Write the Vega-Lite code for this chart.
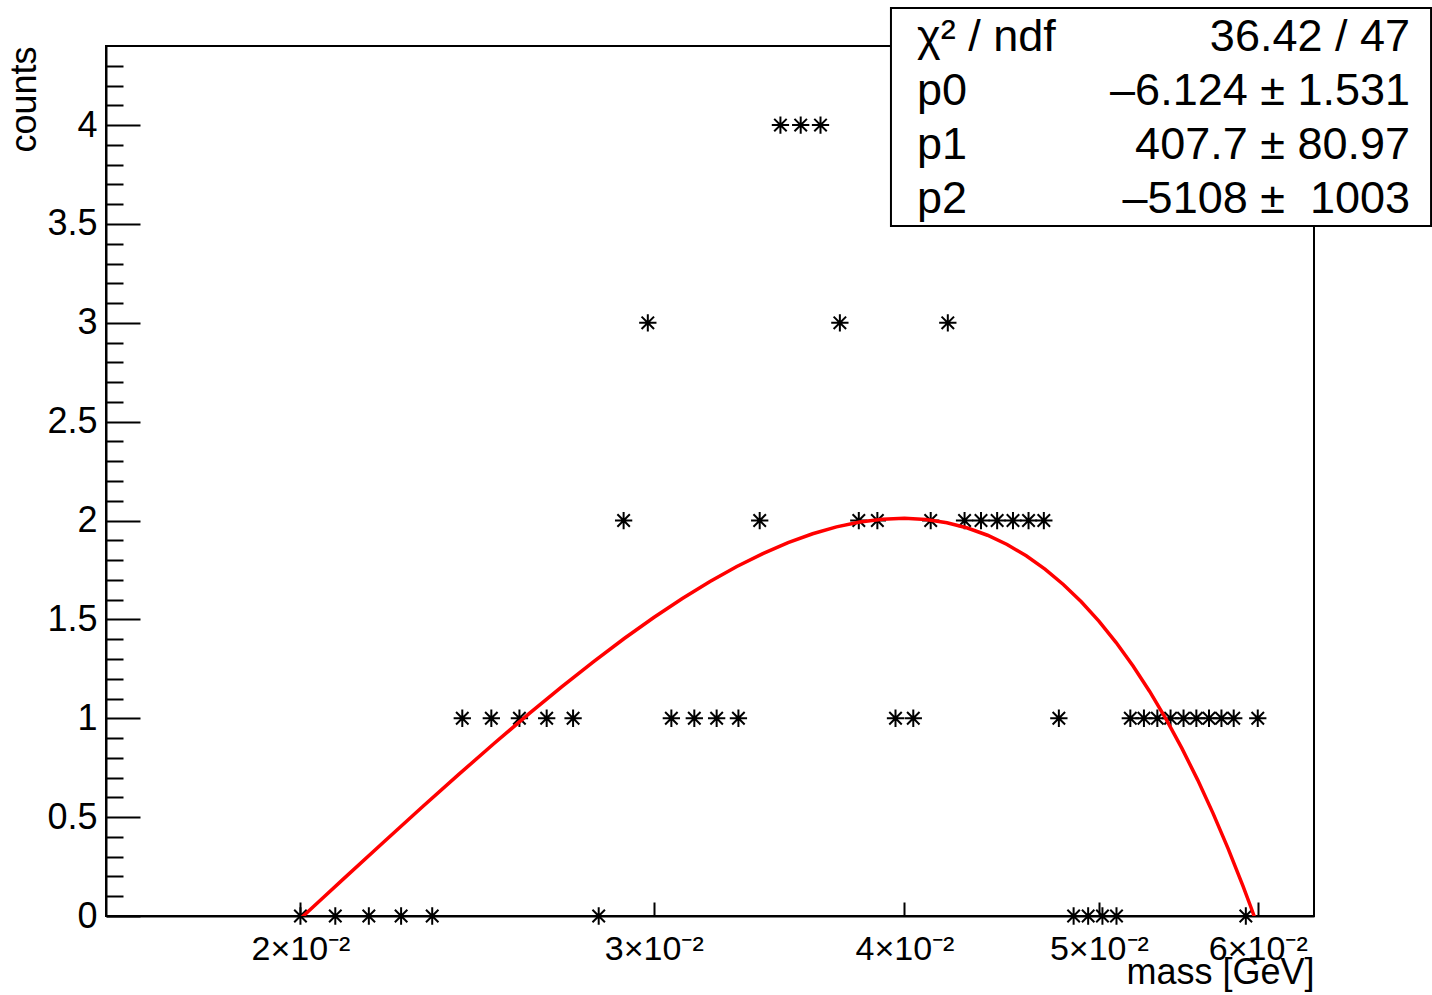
{
  "$schema": "https://vega.github.io/schema/vega-lite/v6.json",
  "width": 1208,
  "height": 870,
  "autosize": {"type": "none"},
  "padding": {"left": 106, "top": 46, "right": 118, "bottom": 79},
  "background": "white",
  "config": {
    "view": {"stroke": "black", "strokeWidth": 2},
    "font": "Liberation Sans",
    "axis": {"grid": false, "domainColor": "black", "domainWidth": 2, "tickColor": "black", "tickWidth": 2, "labelColor": "black", "titleColor": "black", "labelFont": "Liberation Sans", "titleFont": "Liberation Sans", "titleFontWeight": "normal"}
  },
  "datasets": {
    "graph": [
      {"mass": 0.02, "counts": 0}, {"mass": 0.020816, "counts": 0}, {"mass": 0.021633, "counts": 0}, {"mass": 0.022449, "counts": 0}, {"mass": 0.023265, "counts": 0},
      {"mass": 0.024082, "counts": 1}, {"mass": 0.024898, "counts": 1}, {"mass": 0.025714, "counts": 1}, {"mass": 0.026531, "counts": 1}, {"mass": 0.027347, "counts": 1},
      {"mass": 0.028163, "counts": 0}, {"mass": 0.02898, "counts": 2}, {"mass": 0.029796, "counts": 3}, {"mass": 0.030612, "counts": 1}, {"mass": 0.031429, "counts": 1},
      {"mass": 0.032245, "counts": 1}, {"mass": 0.033061, "counts": 1}, {"mass": 0.033878, "counts": 2}, {"mass": 0.034694, "counts": 4}, {"mass": 0.03551, "counts": 4},
      {"mass": 0.036327, "counts": 4}, {"mass": 0.037143, "counts": 3}, {"mass": 0.037959, "counts": 2}, {"mass": 0.038776, "counts": 2}, {"mass": 0.039592, "counts": 1},
      {"mass": 0.040408, "counts": 1}, {"mass": 0.041224, "counts": 2}, {"mass": 0.042041, "counts": 3}, {"mass": 0.042857, "counts": 2}, {"mass": 0.043673, "counts": 2},
      {"mass": 0.04449, "counts": 2}, {"mass": 0.045306, "counts": 2}, {"mass": 0.046122, "counts": 2}, {"mass": 0.046939, "counts": 2}, {"mass": 0.047755, "counts": 1},
      {"mass": 0.048571, "counts": 0}, {"mass": 0.049388, "counts": 0}, {"mass": 0.050204, "counts": 0}, {"mass": 0.05102, "counts": 0}, {"mass": 0.051837, "counts": 1},
      {"mass": 0.052653, "counts": 1}, {"mass": 0.053469, "counts": 1}, {"mass": 0.054286, "counts": 1}, {"mass": 0.055102, "counts": 1}, {"mass": 0.055918, "counts": 1},
      {"mass": 0.056735, "counts": 1}, {"mass": 0.057551, "counts": 1}, {"mass": 0.058367, "counts": 1}, {"mass": 0.059184, "counts": 0}, {"mass": 0.06, "counts": 1}
    ],
    "fit": [
      {"mass": 0.02, "counts": -0.0132}, {"mass": 0.0205, "counts": 0.0872}, {"mass": 0.021, "counts": 0.1851}, {"mass": 0.022, "counts": 0.3731}, {"mass": 0.023, "counts": 0.551},
      {"mass": 0.024, "counts": 0.7186}, {"mass": 0.025, "counts": 0.876}, {"mass": 0.026, "counts": 1.0232}, {"mass": 0.027, "counts": 1.1602}, {"mass": 0.028, "counts": 1.2869},
      {"mass": 0.029, "counts": 1.4035}, {"mass": 0.03, "counts": 1.5098}, {"mass": 0.031, "counts": 1.6059}, {"mass": 0.032, "counts": 1.6918}, {"mass": 0.033, "counts": 1.7675},
      {"mass": 0.034, "counts": 1.833}, {"mass": 0.035, "counts": 1.8882}, {"mass": 0.036, "counts": 1.9332}, {"mass": 0.037, "counts": 1.9681}, {"mass": 0.038, "counts": 1.9927},
      {"mass": 0.039, "counts": 2.007}, {"mass": 0.04, "counts": 2.0112}, {"mass": 0.041, "counts": 2.0052}, {"mass": 0.042, "counts": 1.9889}, {"mass": 0.043, "counts": 1.9624},
      {"mass": 0.044, "counts": 1.9257}, {"mass": 0.045, "counts": 1.8788}, {"mass": 0.046, "counts": 1.8217}, {"mass": 0.047, "counts": 1.7543}, {"mass": 0.048, "counts": 1.6768},
      {"mass": 0.049, "counts": 1.589}, {"mass": 0.05, "counts": 1.491}, {"mass": 0.051, "counts": 1.3828}, {"mass": 0.052, "counts": 1.2644}, {"mass": 0.053, "counts": 1.1357},
      {"mass": 0.054, "counts": 0.9969}, {"mass": 0.055, "counts": 0.8478}, {"mass": 0.056, "counts": 0.6885}, {"mass": 0.057, "counts": 0.519}, {"mass": 0.058, "counts": 0.3393},
      {"mass": 0.059, "counts": 0.1494}, {"mass": 0.0595, "counts": 0.0506}, {"mass": 0.06, "counts": -0.051}
    ],
    "stats": [
      {"row": 0, "label": "χ² / ndf", "value": "36.42 / 47"},
      {"row": 1, "label": "p0", "value": "–6.124 ± 1.531"},
      {"row": 2, "label": "p1", "value": "407.7 ± 80.97"},
      {"row": 3, "label": "p2", "value": "–5108 ± \u00a01003"}
    ]
  },
  "resolve": {"scale": {"x": "independent", "y": "independent"}},
  "layer": [
    {
      "encoding": {
        "x": {
          "field": "mass", "type": "quantitative",
          "scale": {"type": "log", "domain": [0.016, 0.064], "nice": false},
          "axis": {
            "values": [0.02, 0.03, 0.04, 0.05, 0.06],
            "labelExpr": "format(round(datum.value*100),'d') + '×10⁻²'",
            "labelFontSize": 34, "labelPadding": 30, "tickSize": -14,
            "labelFlush": false, "labelOverlap": false,
            "title": "mass [GeV]", "titleFontSize": 36, "titleAnchor": "end", "titleAlign": "right",
            "titleX": 1208, "titleY": 67, "titleBaseline": "alphabetic"
          }
        },
        "y": {
          "field": "counts", "type": "quantitative",
          "scale": {"domain": [0, 4.4], "nice": false, "zero": false},
          "axis": {
            "values": [0, 0.1, 0.2, 0.3, 0.4, 0.5, 0.6, 0.7, 0.8, 0.9, 1, 1.1, 1.2, 1.3, 1.4, 1.5, 1.6, 1.7, 1.8, 1.9, 2, 2.1, 2.2, 2.3, 2.4, 2.5, 2.6, 2.7, 2.8, 2.9, 3, 3.1, 3.2, 3.3, 3.4, 3.5, 3.6, 3.7, 3.8, 3.9, 4, 4.1, 4.2, 4.3],
            "labelExpr": "abs(datum.value*2 - round(datum.value*2)) < 0.001 ? format(datum.value, '~g') : ''",
            "tickSize": {"condition": {"test": "abs(datum.value*2 - round(datum.value*2)) < 0.001", "value": -34}, "value": -17},
            "labelFontSize": 36, "labelPadding": 43, "labelFlush": false, "labelOverlap": false,
            "title": "counts", "titleFontSize": 36, "titleAnchor": "end", "titleAlign": "right", "titleAngle": 270,
            "titleX": -71, "titleY": 0, "titleBaseline": "alphabetic"
          }
        }
      },
      "layer": [
        {
          "data": {"name": "graph"},
          "mark": {"type": "point", "shape": "M-1,0L1,0M0,-1L0,1M-0.72,-0.72L0.72,0.72M-0.72,0.72L0.72,-0.72", "filled": false, "stroke": "black", "strokeWidth": 2, "size": 300, "opacity": 1}
        },
        {
          "data": {"name": "fit"},
          "mark": {"type": "line", "color": "#ff0000", "strokeWidth": 3.5, "clip": true}
        }
      ]
    },
    {
      "layer": [
        {
          "data": {"values": [{"box": "stats"}]},
          "mark": {"type": "rect", "fill": "white", "stroke": "black", "strokeWidth": 2},
          "encoding": {
            "x": {"datum": 0.6498, "type": "quantitative", "scale": {"domain": [0, 1], "nice": false, "zero": false}, "axis": null},
            "x2": {"datum": 1.0969},
            "y": {"datum": -0.537, "type": "quantitative", "scale": {"domain": [0.1667, 16.2778], "reverse": true, "nice": false, "zero": false}, "axis": null},
            "y2": {"datum": 3.5}
          }
        },
        {
          "data": {"name": "stats"},
          "mark": {"type": "text", "align": "left", "baseline": "middle", "fontSize": 45, "font": "Liberation Sans", "color": "black"},
          "encoding": {
            "x": {"datum": 0.6714, "type": "quantitative"},
            "y": {"field": "row", "type": "quantitative"},
            "text": {"field": "label"}
          }
        },
        {
          "data": {"name": "stats"},
          "mark": {"type": "text", "align": "right", "baseline": "middle", "fontSize": 45, "font": "Liberation Sans", "color": "black"},
          "encoding": {
            "x": {"datum": 1.0795, "type": "quantitative"},
            "y": {"field": "row", "type": "quantitative"},
            "text": {"field": "value"}
          }
        }
      ]
    }
  ]
}
